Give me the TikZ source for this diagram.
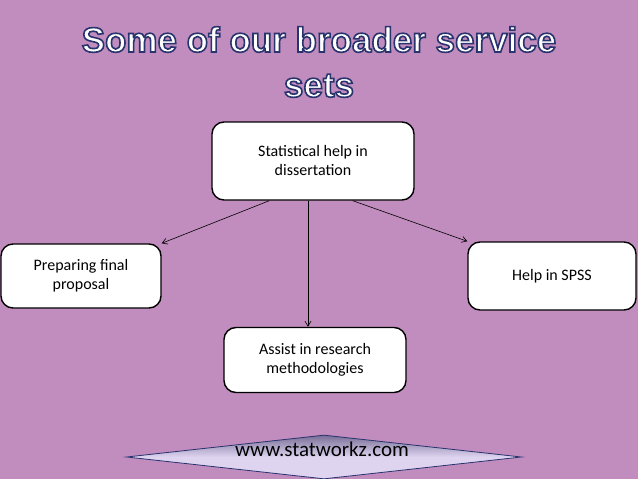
\documentclass[tikz,border=0pt]{standalone}
\usepackage{fontspec}
\setmainfont{Carlito}
\newfontfamily\titlefont{Liberation Sans}
\usepackage{xcolor}
\usetikzlibrary{positioning, arrows.meta, shapes.geometric}

\definecolor{slidebg}{RGB}{193,140,190}
\definecolor{titleedge}{RGB}{40,50,110}
\definecolor{linklav}{RGB}{222,212,240}
\definecolor{linkdark}{RGB}{120,110,150}

% outlined title text (fill white, stroke dark blue)
\newcommand{\outlined}[1]{\special{pdf:code q 2 Tr 1.6 w 0.16 0.2 0.43 RG 1 1 1 rg}#1\special{pdf:code Q}}

\begin{document}
\begin{tikzpicture}[
      x=1pt, y=-1pt,
      block/.style={
        draw,
        rectangle,
        rounded corners=12pt,
        align=center,
        fill=white,
        line width=1.4pt,
        font=\fontsize{16}{19}\selectfont
      },
      arrow/.style={-{Straight Barb[length=5pt,width=6pt]}, semithick}
    ]
    % Slide background
    \fill [slidebg] (0,0) rectangle (638,479);
    \useasboundingbox (0,0) rectangle (638,479);

    % Title
    \node [align=center, font=\titlefont\bfseries\fontsize{35}{45}\selectfont] (title) at (319,62)
      {\outlined{Some of our broader service}\\\outlined{sets}};

    % Place nodes
    \node [block, minimum width=202pt, minimum height=78pt] (stat) at (313,161) {Statistical help in\\dissertation};
    \node [block, minimum width=160pt, minimum height=64pt] (prep) at (81,276) {Preparing final\\proposal};
    \node [block, minimum width=168pt, minimum height=68pt] (spss) at (552,276) {Help in SPSS};
    \node [block, minimum width=182pt, minimum height=65pt] (assist) at (315,360) {Assist in research\\methodologies};

    % Draw direct paths
    \draw [arrow] (stat.south west) ++(58,0) coordinate (s1) -- (prep.north east);
    \draw [arrow] (stat.south) ++(-5,0) coordinate (s2) -- (s2 |- assist.north);
    \draw [arrow] (stat.south east) ++(-62,0) coordinate (s3) -- (spss.north west);

    % Web address banner
    \node [diamond, aspect=9, minimum width=395pt, minimum height=44pt, inner sep=0pt,
      draw=titleedge, thick, top color=linkdark, bottom color=linklav, middle color=linklav] (link) at (324,457) {};
    \node [font=\fontsize{21}{24}\selectfont] (url) at (322,449) {www.statworkz.com};
\end{tikzpicture}
\end{document}
